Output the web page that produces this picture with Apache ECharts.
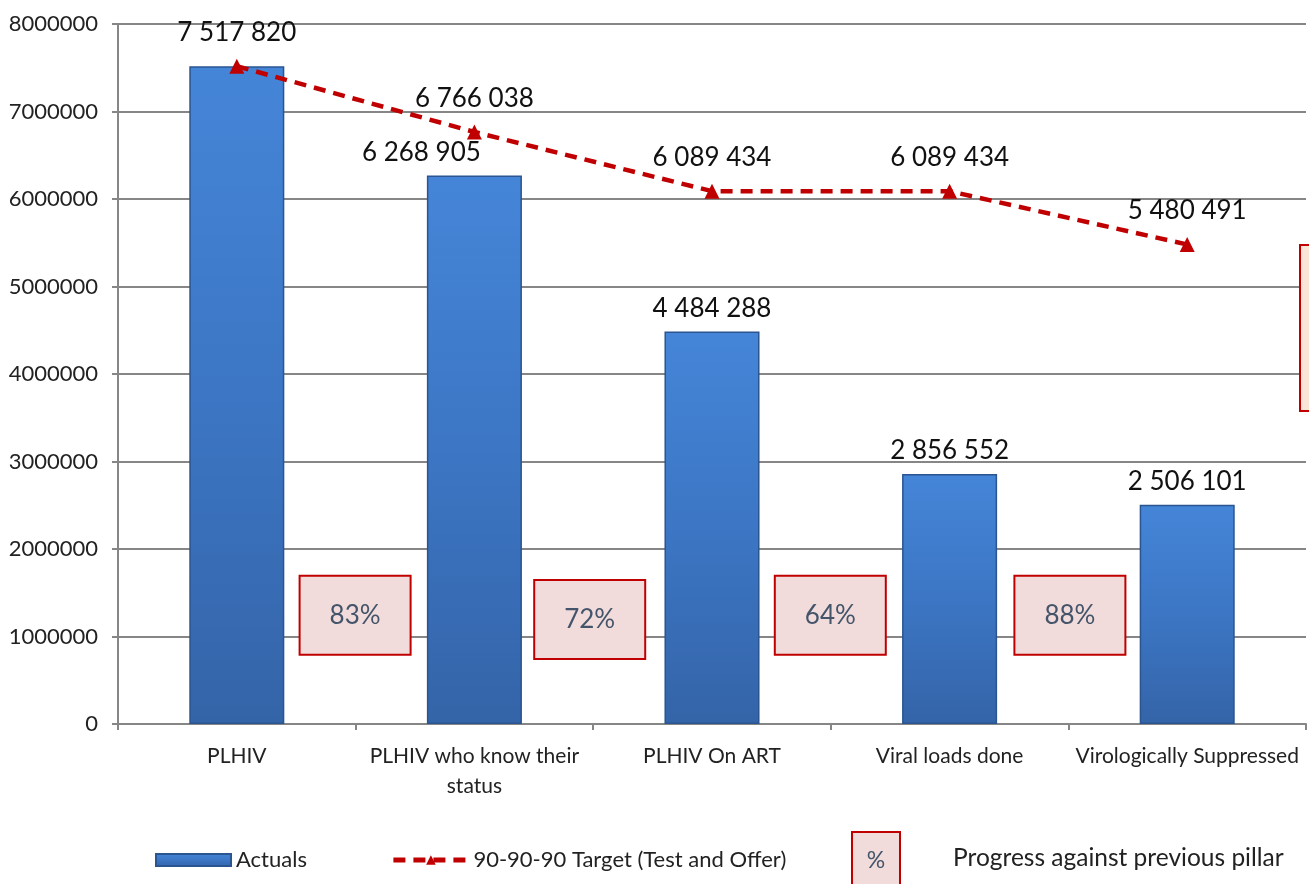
<!DOCTYPE html>
<html>
<head>
<meta charset="utf-8">
<script src="https://cdn.jsdelivr.net/npm/echarts@6/dist/echarts.min.js"></script>
<style>
html,body{margin:0;padding:0;background:#fff;}
#main{width:1309px;height:884px;}
</style>
</head>
<body>
<div id="main"></div>
<script>
const categories = ['PLHIV', 'PLHIV who know their\nstatus', 'PLHIV On ART', 'Viral loads done', 'Virologically Suppressed'];
const actuals = [7517820, 6268905, 4484288, 2856552, 2506101];
const target = [7517820, 6766038, 6089434, 6089434, 5480491];
const progress = ['83%', '72%', '64%', '88%'];
const yTicks = [0, 1000000, 2000000, 3000000, 4000000, 5000000, 6000000, 7000000, 8000000];

const FONT = 'Lato';
function fmt(v){ return String(v).replace(/\B(?=(\d{3})+(?!\d))/g, ' '); }

const chart = echarts.init(document.getElementById('main'), null, {renderer:'canvas'});

const barGrad = new echarts.graphic.LinearGradient(0,0,0,1,[
  {offset:0, color:'#4585d8'},
  {offset:0.5, color:'#3c76c4'},
  {offset:1, color:'#3464a8'}
]);

const option = {
  animation:false,
  textStyle:{fontFamily:FONT},
  grid:{left:118, right:3, top:24, bottom:160, containLabel:false},
  legend:{
    left:150, top:844, itemGap:84,
    itemWidth:75, itemHeight:12,
    textStyle:{fontFamily:FONT, fontSize:22, color:'#222'},
    data:[
      {name:'Actuals', icon:'rect'},
      {name:'90-90-90 Target (Test and Offer)', lineStyle:{width:5}}
    ]
  },
  xAxis:{
    type:'category', data:categories,
    axisLine:{lineStyle:{color:'#868686', width:2}},
    axisTick:{show:true, alignWithLabel:false, length:6, lineStyle:{color:'#868686', width:2}},
    axisLabel:{fontFamily:FONT, fontSize:21, color:'#222', margin:17, lineHeight:30, interval:0}
  },
  yAxis:{
    type:'value', min:0, max:8000000, interval:1000000,
    axisLine:{show:true, lineStyle:{color:'#868686', width:2}},
    axisTick:{show:true, length:6, lineStyle:{color:'#868686', width:2}},
    axisLabel:{fontFamily:FONT, fontSize:22, color:'#222', margin:20, formatter:v=>String(v)},
    splitLine:{lineStyle:{color:'#868686', width:2}}
  },
  series:[
    {
      name:'Actuals', type:'bar', data:actuals.map((v,i)=>{
        const d = {value:v};
        if(i===0) d.label = {show:false};
        if(i===1) d.label = {offset:[-53,0]};
        return d;
      }),
      barWidth:'40%',
      itemStyle:{color:barGrad, borderColor:'#2a5590', borderWidth:1.5},
      label:{show:true, position:'top', distance:10, fontFamily:FONT, fontSize:26, color:'#111', formatter:p=>fmt(p.value)}
    },
    {
      name:'90-90-90 Target (Test and Offer)', type:'line', data:target,
      symbol:'triangle', symbolSize:15, z:5,
      lineStyle:{color:'#c00000', width:4.5, type:[12,8]},
      itemStyle:{color:'#c00000'},
      label:{show:true, position:'top', distance:13, fontFamily:FONT, fontSize:26, color:'#111', formatter:p=>fmt(p.value)}
    }
  ]
};
chart.setOption(option);

// annotation boxes between pillars
const boxLevels = [1250000, 1200000, 1250000, 1250000];
const graphics = [];
progress.forEach((t,i)=>{
  const x0 = chart.convertToPixel({xAxisIndex:0}, i);
  const x1 = chart.convertToPixel({xAxisIndex:0}, i+1);
  const cx = (x0+x1)/2 + (i===1?-3:(i===3?2:0)) - 1;
  const cy = chart.convertToPixel({yAxisIndex:0}, boxLevels[i]);
  graphics.push({
    type:'group', x:cx-55, y:cy-39,
    children:[
      {type:'rect', shape:{x:0,y:0,width:111,height:79}, style:{fill:'#f2dcdb', stroke:'#c00000', lineWidth:2}},
      {type:'text', style:{x:55.5, y:40, text:t, align:'center', verticalAlign:'middle', font:'26px '+FONT, fill:'#44546a'}}
    ]
  });
});
// partially visible box at right edge
graphics.push({type:'rect', shape:{x:1300,y:245,width:40,height:166}, style:{fill:'#fbe5d6', stroke:'#c00000', lineWidth:2}});
// legend for percentage box
graphics.push({type:'rect', shape:{x:852,y:832,width:48,height:60}, style:{fill:'#f2dcdb', stroke:'#c00000', lineWidth:2}});
graphics.push({type:'text', style:{x:876, y:861, text:'%', align:'center', verticalAlign:'middle', font:'23px '+FONT, fill:'#44546a'}});
graphics.push({type:'text', style:{x:953, y:858, text:'Progress against previous pillar', align:'left', verticalAlign:'middle', font:'24.5px '+FONT, fill:'#222'}});
chart.setOption({graphic:graphics});
</script>
</body>
</html>
